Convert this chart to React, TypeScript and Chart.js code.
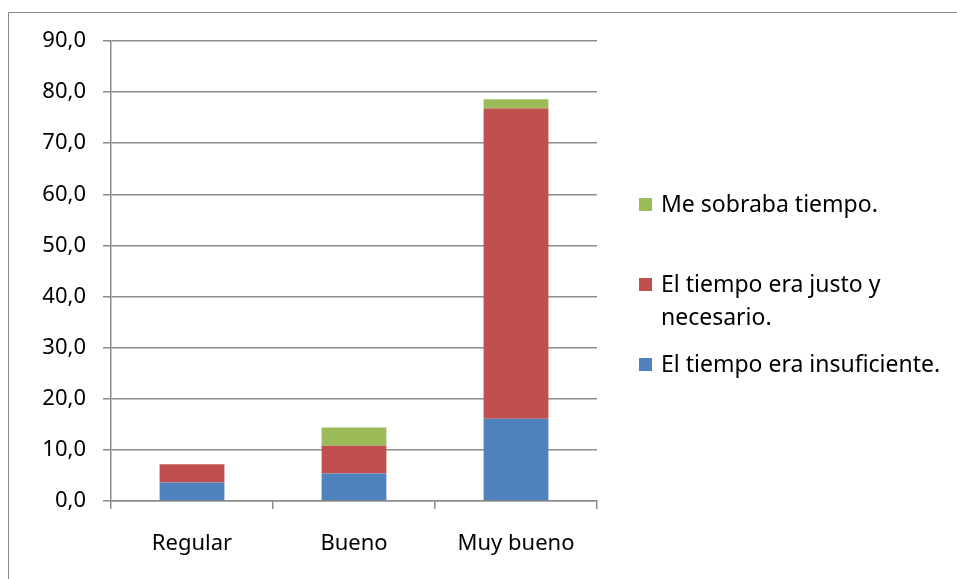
import React, { useEffect, useRef } from "react";
import { Chart, registerables } from "chart.js";

Chart.register(...registerables);

const categories = ["Regular", "Bueno", "Muy bueno"];
const seriesNames = [
  "El tiempo era insuficiente.",
  "El tiempo era justo y necesario.",
  "Me sobraba tiempo.",
];
const insuficiente = [3.6, 5.4, 16.1];
const justo = [3.6, 5.4, 60.7];
const sobraba = [0, 3.6, 1.8];
const legendLines = [
  ["Me sobraba tiempo."],
  ["El tiempo era justo y", "necesario."],
  ["El tiempo era insuficiente."],
];

const COLORS = ["#4f81bd", "#c0504d", "#9bbb59"];
const GRID = "#8c8c8c";
const FONT = "'Noto Sans', sans-serif";
const FONT_SIZE = 22;
const LEGEND_FONT_SIZE = 23;

const frameAndLegend = {
  id: "frameAndLegend",
  afterDraw(chart: any) {
    const ctx = chart.ctx;
    ctx.save();
    ctx.strokeStyle = "#878787";
    ctx.lineWidth = 1;
    ctx.beginPath();
    ctx.moveTo(8.5, 700);
    ctx.lineTo(8.5, 12.5);
    ctx.lineTo(1200, 12.5);
    ctx.stroke();

    // legend (reverse order like the original)
    const items = [2, 1, 0];
    const centers = [[204], [284, 317], [364]];
    ctx.font = `${LEGEND_FONT_SIZE}px ${FONT}`;
    ctx.textBaseline = "middle";
    ctx.textAlign = "left";
    items.forEach((dsIndex, i) => {
      const ds = chart.data.datasets[dsIndex];
      const ys = centers[i];
      ctx.fillStyle = ds.backgroundColor;
      ctx.fillRect(639, ys[0] - 6, 13, 13);
      ctx.fillStyle = "#000";
      legendLines[i].forEach((line, j) => {
        ctx.fillText(line, 661, ys[j] + 1);
      });
    });
    ctx.restore();
  },
};

export default function App() {
  const ref = useRef<HTMLCanvasElement>(null);
  useEffect(() => {
    if (!ref.current) return;
    const chart = new Chart(ref.current, {
      type: "bar",
      data: {
        labels: categories,
        datasets: [
          { label: seriesNames[0], data: insuficiente, backgroundColor: COLORS[0] },
          { label: seriesNames[1], data: justo, backgroundColor: COLORS[1] },
          { label: seriesNames[2], data: sobraba, backgroundColor: COLORS[2] },
        ],
      },
      options: {
        animation: false,
        responsive: false,
        devicePixelRatio: 1,
        layout: { padding: { left: 0, right: 360, top: 41, bottom: 0 } },
        datasets: { bar: { barPercentage: 0.4, categoryPercentage: 1 } },
        plugins: { legend: { display: false }, tooltip: { enabled: false } },
        scales: {
          x: {
            stacked: true,
            grid: {
              drawOnChartArea: false,
              drawTicks: true,
              tickLength: 8,
              color: GRID,
              lineWidth: 1.5,
              offset: true,
            },
            border: { display: true, color: GRID, width: 1.5 },
            ticks: {
              color: "#000",
              padding: 22,
              font: { family: FONT, size: FONT_SIZE },
            },
            afterFit: (s: any) => {
              s.height = 78;
            },
          },
          y: {
            stacked: true,
            min: 0,
            max: 90,
            grid: {
              color: GRID,
              lineWidth: 1.5,
              tickLength: 8,
              drawTicks: true,
            },
            border: { display: true, color: GRID, width: 1.5 },
            ticks: {
              stepSize: 10,
              color: "#000",
              padding: 17,
              font: { family: FONT, size: FONT_SIZE },
              callback: (v: any) => Number(v).toFixed(1).replace(".", ","),
            },
            afterFit: (s: any) => {
              s.width = 111;
            },
          },
        },
      },
      plugins: [frameAndLegend],
    });
    return () => chart.destroy();
  }, []);
  return (
    <div style={{ position: "absolute", left: 0, top: 0, width: 957, height: 579, background: "#fff" }}>
      <canvas ref={ref} width={957} height={579} style={{ display: "block" }} />
    </div>
  );
}
